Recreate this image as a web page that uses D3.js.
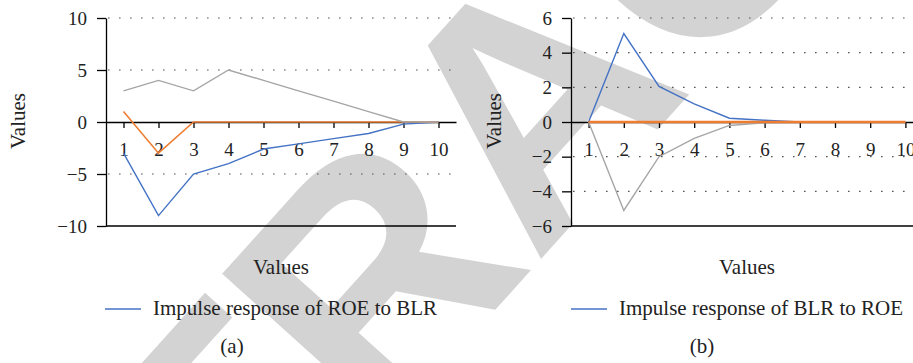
<!DOCTYPE html>
<html>
<head>
<meta charset="utf-8">
<script src="https://cdn.jsdelivr.net/npm/d3@7"></script>
<style>
  body { margin: 0; background: #fff; }
  svg { display: block; }
</style>
</head>
<body>
<svg id="chart" width="913" height="363"></svg>
<script>
// periods on the category axis
const periods = [1, 2, 3, 4, 5, 6, 7, 8, 9, 10];

// (a) impulse response of ROE to BLR
const roeBlue   = [-3, -9, -5, -4, -2.6, -2.1, -1.6, -1.1, -0.2, 0];
const roeOrange = [1, -3, 0, 0, 0, 0, 0, 0, 0, 0];
const roeGrey   = [3, 4, 3, 5, 4, 3, 2, 1, 0, 0];
const ticksA = [-10, -5, 0, 5, 10];

// (b) impulse response of BLR to ROE
const blrBlue   = [0, 5.1, 2.05, 1.05, 0.22, 0.1, 0, 0, 0, 0];
const blrGrey   = [0, -5.1, -2, -0.95, -0.2, -0.05, 0, 0, 0, 0];
const blrOrange = [0, 0, 0, 0, 0, 0, 0, 0, 0, 0];
const ticksB = [-6, -4, -2, 0, 2, 4, 6];

const BLUE = "#4472c4", ORANGE = "#ed7d31", GREY = "#a5a5a5";
const FONT = "'Liberation Serif', 'Times New Roman', serif";

const svg = d3.select("#chart");

// watermark, sits under the charts
svg.append("text")
  .attr("transform", "translate(527,97) rotate(-48)")
  .attr("text-anchor", "middle")
  .attr("dy", "0.36em")
  .attr("font-family", "'Liberation Sans', Arial, sans-serif")
  .attr("font-weight", "bold")
  .attr("font-size", 330)
  .attr("fill", "#d3d3d3")
  .text("RETRACTED");

const panels = [
  {
    x0: 106, x1: 456, domain: [-10, 10], ticks: ticksA,
    series: [[roeBlue, BLUE, 1.4], [roeOrange, ORANGE, 1.6], [roeGrey, GREY, 1.4]],
    titleX: 281, legendX: 105, legend: "Impulse response of ROE to BLR",
    yTitleX: 25, tag: "(a)", tagX: 232
  },
  {
    x0: 571, x1: 923, domain: [-6, 6], ticks: ticksB,
    series: [[blrBlue, BLUE, 1.4], [blrGrey, GREY, 1.4], [blrOrange, ORANGE, 2.4]],
    titleX: 747, legendX: 571, legend: "Impulse response of BLR to ROE",
    yTitleX: 501, tag: "(b)", tagX: 702
  }
];

const drawPanel = p => {
  const g = svg.append("g");
  const x = d3.scalePoint().domain(periods).range([p.x0, p.x1]).padding(0.5);
  const y = d3.scaleLinear().domain(p.domain).range([226, 18]);

  // dotted grid
  g.selectAll(".grid")
    .data(p.ticks.filter(t => t !== 0 && t !== p.domain[0]))
    .join("line")
    .attr("x1", p.x0 + 2).attr("x2", p.x1)
    .attr("y1", d => y(d)).attr("y2", d => y(d))
    .attr("stroke", "#555").attr("stroke-width", 1.2)
    .attr("stroke-dasharray", "1.6,9.4");

  // solid bottom line
  g.append("line")
    .attr("x1", p.x0).attr("x2", p.x1)
    .attr("y1", y(p.domain[0])).attr("y2", y(p.domain[0]))
    .attr("stroke", "#000").attr("stroke-width", 1.3);

  const yAx = g.append("g")
    .attr("transform", `translate(${p.x0},0)`)
    .call(d3.axisLeft(y).tickValues(p.ticks).tickSize(9).tickPadding(10).tickSizeOuter(0));

  const xAx = g.append("g")
    .attr("transform", `translate(0,${y(0)})`)
    .call(d3.axisBottom(x).tickSize(6).tickPadding(15).tickSizeOuter(0));

  [yAx, xAx].forEach(a => {
    a.selectAll("path, line").attr("stroke", "#000").attr("stroke-width", 1.3);
    a.selectAll("text").attr("font-family", FONT).attr("font-size", 19).attr("fill", "#222");
  });

  const line = d3.line().x((d, i) => x(periods[i])).y(d => y(d));
  p.series.forEach(([vals, col, w]) => {
    g.append("path").datum(vals)
      .attr("d", line)
      .attr("fill", "none").attr("stroke", col).attr("stroke-width", w);
  });

  // axis titles
  g.append("text")
    .attr("x", p.titleX).attr("y", 274)
    .attr("text-anchor", "middle")
    .attr("font-family", FONT).attr("font-size", 21).attr("fill", "#222")
    .text("Values");
  g.append("text")
    .attr("transform", `translate(${p.yTitleX},121) rotate(-90)`)
    .attr("text-anchor", "middle")
    .attr("font-family", FONT).attr("font-size", 21).attr("fill", "#222")
    .text("Values");

  // legend
  g.append("line")
    .attr("x1", p.legendX).attr("x2", p.legendX + 36)
    .attr("y1", 309).attr("y2", 309)
    .attr("stroke", BLUE).attr("stroke-width", 1.4);
  g.append("text")
    .attr("x", p.legendX + 48).attr("y", 315)
    .attr("font-family", FONT).attr("font-size", 21).attr("fill", "#222")
    .text(p.legend);

  g.append("text")
    .attr("x", p.tagX).attr("y", 353)
    .attr("text-anchor", "middle")
    .attr("font-family", FONT).attr("font-size", 21).attr("fill", "#222")
    .text(p.tag);
};

panels.forEach(drawPanel);
</script>
</body>
</html>
